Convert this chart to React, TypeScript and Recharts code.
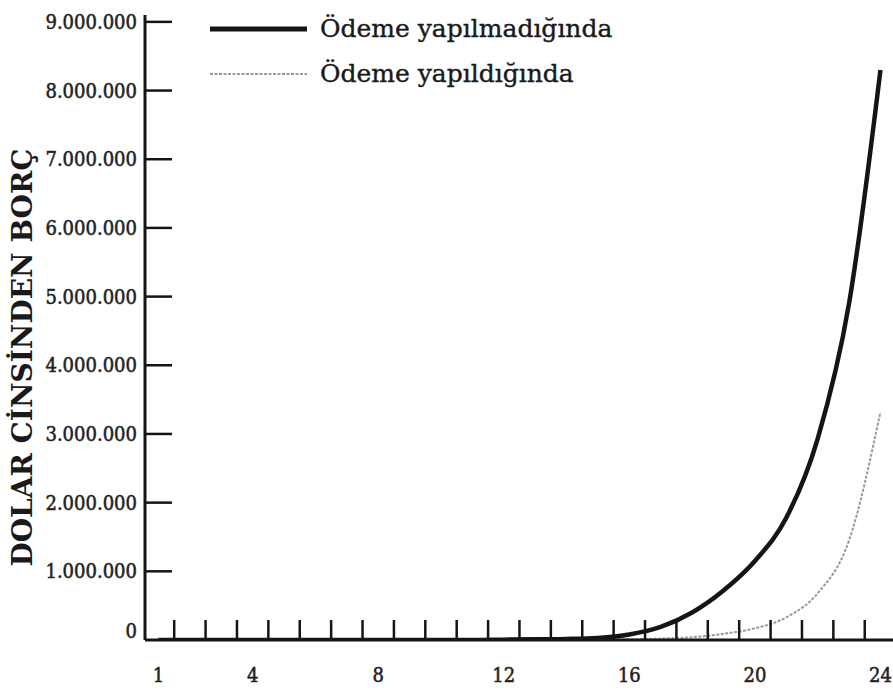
import { LineChart, Line, XAxis, YAxis, Legend } from "recharts";

// years on the x axis
const years = [1, 2, 3, 4, 5, 6, 7, 8, 9, 10, 11, 12, 13, 14, 15, 16, 17, 18, 19, 20, 21, 22, 23, 24];
// debt in dollars when no payment is made
const unpaid = [0, 0, 0, 0, 0, 0, 0, 0, 0, 0, 0, 5000, 10000, 15000, 30000, 80000, 190000, 400000, 720000, 1150000, 1780000, 2930000, 4900000, 8300000];
// debt in dollars when payments are made
const paid = [0, 0, 0, 0, 0, 0, 0, 0, 0, 0, 0, 0, 0, 0, 5000, 10000, 20000, 40000, 90000, 170000, 330000, 680000, 1450000, 3320000];

const seriesNames = ["Ödeme yapılmadığında", "Ödeme yapıldığında"];
const yTicks = [0, 1000000, 2000000, 3000000, 4000000, 5000000, 6000000, 7000000, 8000000, 9000000];
const xLabels = [1, 4, 8, 12, 16, 20, 24];
const xTickMarks = [1.5, 2.5, 3.5, 4.5, 5.5, 6.5, 7.5, 8.5, 9.5, 10.5, 11.5, 12.5, 13.5, 14.5, 15.5, 16.5, 17.5, 18.5, 19.5, 20.5, 21.5, 22.5, 23.5];
const yTitle = "DOLAR CİNSİNDEN BORÇ";

const data = years.map((year, i) => ({ year, unpaid: unpaid[i], paid: paid[i] }));

const W = 893;
const H = 690;
const PLOT_LEFT = 145;
const PLOT_TOP = 15;
const PLOT_BOTTOM = 640;
const FONT = '"DejaVu Serif Condensed", "DejaVu Serif", serif';
const INK = "#151515";
const GREY = "#9a9a9a";

const fmt = (v: number) => String(v).replace(/\B(?=(\d{3})+(?!\d))/g, ".");

function YTick(props: any) {
  const { y, payload } = props;
  const v = payload.value as number;
  return (
    <g>
      {v > 0 && <line x1={PLOT_LEFT} x2={PLOT_LEFT + 27} y1={y} y2={y} stroke={INK} strokeWidth={2.5} />}
      <text
        x={137}
        y={v === 0 ? y - 9 : y}
        textAnchor="end"
        dominantBaseline="central"
        fontFamily={FONT}
        fontSize={20}
        fill="#222"
        stroke="#222"
        strokeWidth={0.5}
      >
        {fmt(v)}
      </text>
    </g>
  );
}

function XTick(props: any) {
  const { x, payload } = props;
  const v = payload.value as number;
  if (xLabels.includes(v)) {
    return (
      <text x={x} y={682} textAnchor="middle" fontFamily={FONT} fontSize={20} fill="#222" stroke="#222" strokeWidth={0.5}>
        {v}
      </text>
    );
  }
  return <line x1={x} x2={x} y1={PLOT_BOTTOM} y2={PLOT_BOTTOM - 20} stroke={INK} strokeWidth={2.5} />;
}

function YTitle(props: any) {
  const { viewBox } = props;
  const cx = 22;
  const cy = viewBox.y + viewBox.height / 2 + 30;
  return (
    <text
      x={cx}
      y={cy}
      transform={`rotate(-90 ${cx} ${cy})`}
      textAnchor="middle"
      dominantBaseline="central"
      fontFamily="DejaVu Serif"
      fontWeight="bold"
      fontSize={28}
      fill="#1a1a1a"
    >
      {yTitle}
    </text>
  );
}

function LegendBox() {
  const row = (i: number) => (
    <div key={i} style={{ display: "flex", alignItems: "center", height: 45 }}>
      <svg width={97} height={10} style={{ marginRight: 13 }}>
        {i === 0 ? (
          <line x1={0} x2={97} y1={5} y2={5} stroke={INK} strokeWidth={5} />
        ) : (
          <line x1={0} x2={97} y1={5} y2={5} stroke={GREY} strokeWidth={2} strokeDasharray="3 1.5" />
        )}
      </svg>
      <span
        style={{
          fontFamily: "DejaVu Serif",
          fontSize: 25,
          color: "#1a1a1a",
          lineHeight: 1,
          WebkitTextStroke: "0.4px #1a1a1a",
          whiteSpace: "nowrap",
        }}
      >
        {seriesNames[i]}
      </span>
    </div>
  );
  return <div>{[0, 1].map(row)}</div>;
}

export default function App() {
  const ticks = [...xTickMarks, ...xLabels].sort((a, b) => a - b);
  return (
    <div style={{ position: "absolute", left: 0, top: 0, width: W, height: H, background: "#fff" }}>
      <LineChart width={W} height={H} data={data} margin={{ top: PLOT_TOP, right: 0, bottom: 0, left: 0 }}>
        <XAxis
          dataKey="year"
          type="number"
          domain={[0.57, 24.4]}
          allowDataOverflow
          ticks={ticks}
          interval={0}
          tick={<XTick />}
          tickLine={false}
          height={H - PLOT_BOTTOM}
          axisLine={{ stroke: INK, strokeWidth: 3 }}
        />
        <YAxis
          type="number"
          domain={[0, 9100000]}
          allowDataOverflow
          ticks={yTicks}
          interval={0}
          tick={<YTick />}
          tickLine={false}
          width={PLOT_LEFT}
          axisLine={{ stroke: INK, strokeWidth: 3 }}
          label={<YTitle />}
        />
        <Legend
          layout="vertical"
          align="center"
          verticalAlign="middle"
          wrapperStyle={{ position: "absolute", left: 210, top: 6, width: 480 }}
          content={() => <LegendBox />}
        />
        <Line
          dataKey="paid"
          name={seriesNames[1]}
          type="monotone"
          stroke={GREY}
          strokeWidth={2}
          strokeDasharray="3 1.5"
          dot={false}
          isAnimationActive={false}
        />
        <Line
          dataKey="unpaid"
          name={seriesNames[0]}
          type="monotone"
          stroke={INK}
          strokeWidth={4.5}
          dot={false}
          isAnimationActive={false}
        />
      </LineChart>
    </div>
  );
}
